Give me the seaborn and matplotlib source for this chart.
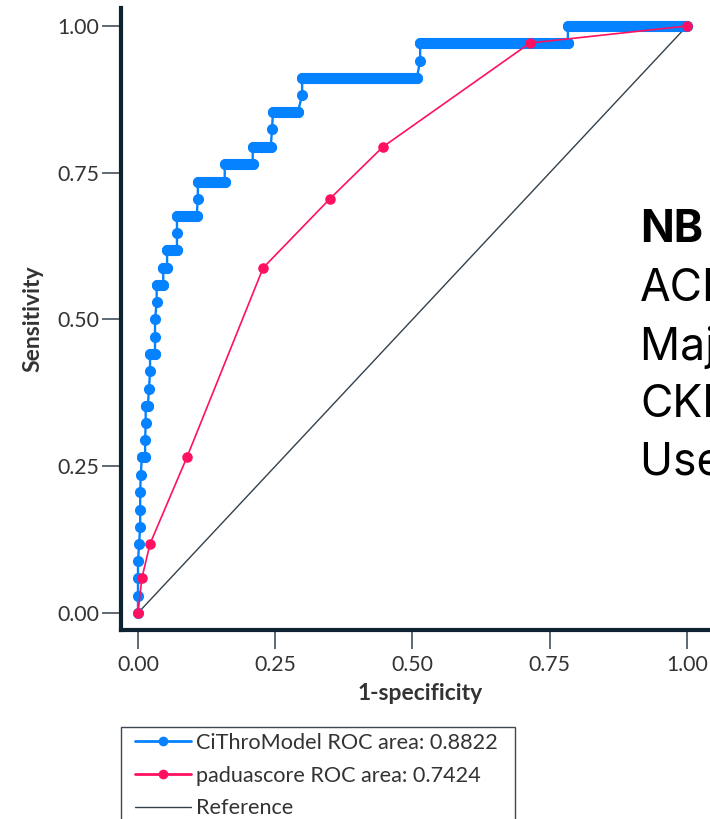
import numpy as np
import pandas as pd
import matplotlib
matplotlib.use("Agg")
import matplotlib.pyplot as plt
from matplotlib.lines import Line2D
from matplotlib.patches import Rectangle
import seaborn as sns

# ---------------- data ----------------
cithro_fpr = [0.000, 0.000, 0.000, 0.000, 0.002, 0.004, 0.004, 0.004, 0.005,
              0.007, 0.013, 0.013, 0.014, 0.014, 0.018, 0.020, 0.022,
              0.022, 0.031, 0.031, 0.031, 0.034, 0.034, 0.046, 0.046, 0.053,
              0.053, 0.071, 0.071, 0.071, 0.107, 0.109, 0.109, 0.158,
              0.158, 0.209, 0.209, 0.242, 0.244, 0.246, 0.291, 0.299,
              0.299, 0.508, 0.514, 0.514, 0.783, 0.783, 1.000]
cithro_tpr = [0.000, 0.029, 0.059, 0.088, 0.118, 0.147, 0.176, 0.206, 0.235,
              0.265, 0.265, 0.294, 0.324, 0.353, 0.353, 0.382, 0.412,
              0.441, 0.441, 0.471, 0.500, 0.529, 0.559, 0.559, 0.588, 0.588,
              0.618, 0.618, 0.647, 0.676, 0.676, 0.706, 0.735, 0.735,
              0.765, 0.765, 0.794, 0.794, 0.824, 0.853, 0.853, 0.882,
              0.912, 0.912, 0.941, 0.971, 0.971, 1.000, 1.000]

padua_fpr = [0.000, 0.007, 0.022, 0.089, 0.228, 0.350, 0.446, 0.714, 1.000]
padua_tpr = [0.000, 0.059, 0.118, 0.265, 0.588, 0.706, 0.794, 0.971, 1.000]

ref_x = [0.0, 1.0]
ref_y = [0.0, 1.0]

tick_values = [0.00, 0.25, 0.50, 0.75, 1.00]
tick_labels = ["0.00", "0.25", "0.50", "0.75", "1.00"]

legend_labels = ["CiThroModel ROC area: 0.8822",
                 "paduascore ROC area: 0.7424",
                 "Reference"]
x_title = "1-specificity"
y_title = "Sensitivity"
note_title = "NB"
note_lines = ["ACI", "Major surgery", "CKD", "Use of"]

# ---------------- style ----------------
BLUE = "#0582ff"
RED = "#ff1060"
REF = "#33414c"
SPINE = "#0f2230"
TICK = "#44505a"
TEXT = "#333333"

sns.set_theme(style="white")
plt.rcParams["font.family"] = ["Lato", "DejaVu Sans"]

W, H = 710, 819
fig = plt.figure(figsize=(W / 100, H / 100), dpi=100)

x0, x1 = -0.0304, 1.06
y0, y1 = -0.029, 1.031
px_x, px_y = 549.0, 587.0
left_px, bottom_px = 121.3, 630.0
ax = fig.add_axes([left_px / W, (H - bottom_px) / H,
                   (x1 - x0) * px_x / W, (y1 - y0) * px_y / H])
ax.set_xlim(x0, x1)
ax.set_ylim(y0, y1)

# reference diagonal
sns.lineplot(x=ref_x, y=ref_y, color=REF, linewidth=1.0, ax=ax, zorder=2)

# CiThroModel empirical ROC
MS = 8.0
df_c = pd.DataFrame({"fpr": cithro_fpr, "tpr": cithro_tpr})
sns.lineplot(data=df_c, x="fpr", y="tpr", sort=False, estimator=None,
             color=BLUE, linewidth=1.7, marker="o", markersize=MS,
             markeredgewidth=0, ax=ax, zorder=3)
runs = df_c.groupby("tpr")["fpr"].agg(["min", "max"])
runs = runs[runs["max"] > runs["min"]]
ax.hlines(runs.index, runs["min"], runs["max"], colors=BLUE,
          linewidth=MS, capstyle="round", zorder=3)

# padua score ROC
df_p = pd.DataFrame({"fpr": padua_fpr, "tpr": padua_tpr})
sns.lineplot(data=df_p, x="fpr", y="tpr", sort=False, estimator=None,
             color=RED, linewidth=1.2, marker="o", markersize=7.6,
             markeredgewidth=0, ax=ax, zorder=4)

# axes styling
for s in ["top", "right"]:
    ax.spines[s].set_visible(False)
for s in ["left", "bottom"]:
    ax.spines[s].set_linewidth(3.0)
    ax.spines[s].set_color(SPINE)
    ax.spines[s].set_zorder(5)
ax.set_xticks(tick_values)
ax.set_xticklabels(tick_labels)
ax.set_yticks(tick_values)
ax.set_yticklabels(tick_labels)
ax.tick_params(axis="both", direction="out", length=14, width=1.2,
               color=TICK, labelsize=15.3, labelcolor=TEXT,
               left=True, bottom=True)
ax.tick_params(axis="x", pad=4)
ax.tick_params(axis="y", pad=2)
ax.set_xlabel(x_title, fontsize=16.5, fontweight="bold", color=TEXT, labelpad=6)
ax.set_ylabel(y_title, fontsize=16.5, fontweight="bold", color=TEXT, labelpad=10)
ax.grid(False)

# legend (frame drawn separately so the inner padding matches)
fig.patches.append(Rectangle((121 / W, -0.05), (515 - 121) / W, 0.05 + 1 - 727 / H,
                             transform=fig.transFigure, fill=False,
                             edgecolor="#3d4a55", linewidth=1.0, zorder=1))
handles = [
    Line2D([0], [0], color=BLUE, lw=2, marker="o", markersize=7, markeredgewidth=0),
    Line2D([0], [0], color=RED, lw=2, marker="o", markersize=7, markeredgewidth=0),
    Line2D([0], [0], color=REF, lw=1),
]
leg = ax.legend(handles, legend_labels, loc="upper left",
                bbox_to_anchor=(135 / W, 1 - 733 / H),
                bbox_transform=fig.transFigure, fontsize=15.6,
                frameon=False, borderpad=0, labelspacing=0.58,
                handlelength=2.6, handletextpad=0.22, borderaxespad=0,
                numpoints=1)
for t in leg.get_texts():
    t.set_color(TEXT)

# side note (cut off at the right edge in the reference)
fig.text(640 / W, 1 - 230 / H, note_title, fontsize=32, fontweight="bold",
         family=["Inter", "DejaVu Sans"], color="black", va="center", ha="left")
for i, line in enumerate(note_lines):
    fig.text(640 / W, 1 - (289 + 58 * i) / H, line, fontsize=32,
             family=["Inter", "DejaVu Sans"], color="black",
             va="center", ha="left")

fig.savefig("out.png", dpi=100)
